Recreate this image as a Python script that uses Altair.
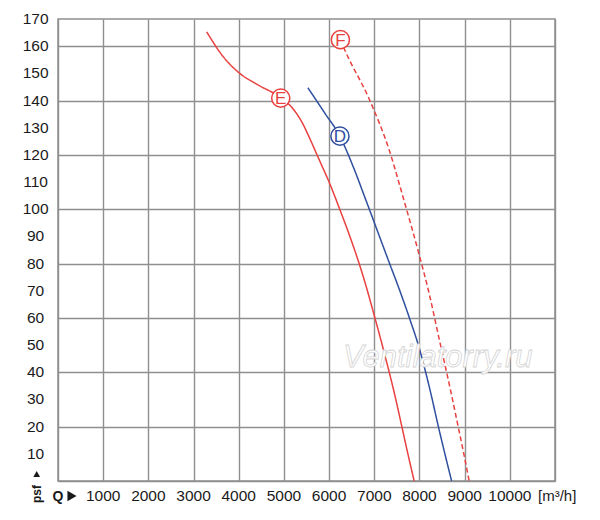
import altair as alt
import pandas as pd

# ---- data ----
E_q = [3290, 3640, 4000, 4400, 4930, 5200, 5400, 5600, 5800, 6000, 6240, 6460, 6760, 6990, 7200, 7456, 7604, 7737, 7883]
E_p = [165.3, 156.5, 150.3, 146.0, 141.0, 137.0, 132.0, 125.0, 117.5, 110.0, 99.8, 90.0, 75.0, 61.5, 48.5, 31.5, 20.5, 10.5, 0.0]

D_q = [5530, 5900, 6240, 6530, 6800, 7070, 7310, 7570, 7790, 7990, 8130, 8265, 8405, 8560, 8712]
D_p = [144.7, 135.5, 126.8, 115.8, 104.0, 92.0, 81.3, 69.8, 59.4, 49.2, 40.5, 31.3, 21.0, 10.2, 0.0]

F_q = [6250, 6350, 6900, 7330, 7660, 7990, 8200, 8440, 8710, 8857, 8982, 9100]
F_p = [162.4, 158.5, 140.1, 121.8, 103.1, 83.5, 70.0, 52.0, 31.7, 20.0, 10.0, 0.0]

LABEL_NAMES = ["E", "D", "F"]
LABEL_Q = [4930, 6240, 6250]
LABEL_P = [140.9, 126.9, 162.4]

X_GRID = [0, 1000, 2000, 3000, 4000, 5000, 6000, 7000, 8000, 9000, 10000, 11000]
X_LABELS = [1000, 2000, 3000, 4000, 5000, 6000, 7000, 8000, 9000, 10000]
Y_GRID = list(range(0, 171, 10))
Y_LABELS = list(range(10, 171, 10))

RED = "#e8413f"
BLUE = "#2f4f9f"
GRID = "#8f8f8f"
TXT = "#1a1a1a"
FONT = "Liberation Sans"

rows = []
for name, qs, ps in [("E", E_q, E_p), ("D", D_q, D_p), ("F", F_q, F_p)]:
    for q, p in zip(qs, ps):
        rows.append({"curve": name, "q": q, "p": p})
curves = pd.DataFrame(rows)
labels = pd.DataFrame({"curve": LABEL_NAMES, "q": LABEL_Q, "p": LABEL_P})
xlab = pd.DataFrame({"v": X_LABELS, "t": [str(v) for v in X_LABELS]})
ylab = pd.DataFrame({"v": Y_LABELS, "t": [str(v) for v in Y_LABELS]})

xs = alt.Scale(domain=[0, 11000], nice=False, zero=False)
ys = alt.Scale(domain=[0, 170], nice=False)
cscale = alt.Scale(domain=["E", "D", "F"], range=[RED, BLUE, RED])
dscale = alt.Scale(domain=["E", "D", "F"], range=[[1, 0], [1, 0], [5, 3]])

xaxis = alt.Axis(values=X_GRID, labels=False, title=None, grid=True,
                 gridColor=GRID, gridWidth=1.4, gridOpacity=1,
                 domain=False, ticks=False, tickSize=0)
yaxis = alt.Axis(values=Y_GRID, labels=False, title=None, grid=True,
                 gridColor=GRID, gridWidth=1.4, gridOpacity=1,
                 domain=False, ticks=False, tickSize=0)

lines = alt.Chart(curves).mark_line(strokeWidth=1.5, interpolate="monotone").encode(
    x=alt.X("q:Q", scale=xs, axis=xaxis),
    y=alt.Y("p:Q", scale=ys, axis=yaxis),
    color=alt.Color("curve:N", scale=cscale, legend=None),
    strokeDash=alt.StrokeDash("curve:N", scale=dscale, legend=None),
    detail="curve:N",
)

circles = alt.Chart(labels).mark_point(shape="circle", filled=False, fill="white",
                                       fillOpacity=1, opacity=1, size=330, strokeWidth=1.5).encode(
    x=alt.X("q:Q", scale=xs),
    y=alt.Y("p:Q", scale=ys),
    stroke=alt.Stroke("curve:N", scale=cscale, legend=None),
)

letters = alt.Chart(labels).mark_text(font=FONT, fontSize=17, align="center",
                                      baseline="middle", dy=1).encode(
    x=alt.X("q:Q", scale=xs),
    y=alt.Y("p:Q", scale=ys),
    text="curve:N",
    color=alt.Color("curve:N", scale=cscale, legend=None),
)

xlabels = alt.Chart(xlab).mark_text(font=FONT, fontSize=15.5, color=TXT, align="center",
                                    baseline="middle").encode(
    x=alt.X("v:Q", scale=xs), y=alt.value(477), text="t:N")
ylabels = alt.Chart(ylab).mark_text(font=FONT, fontSize=15.5, color=TXT, align="center",
                                    baseline="middle").encode(
    x=alt.value(-22.4), y=alt.Y("v:Q", scale=ys), text="t:N")

one = alt.Data(values=[{"a": 1}])

q_text = alt.Chart(one).mark_text(text="Q", font=FONT, fontSize=14, fontWeight="bold",
                                  color=TXT, align="center", baseline="middle").encode(
    x=alt.value(0), y=alt.value(478))
q_arrow = alt.Chart(one).mark_point(shape="triangle-right", filled=True, color=TXT,
                                    size=110, opacity=1).encode(
    x=alt.value(14), y=alt.value(477))
unit_text = alt.Chart(one).mark_text(text="[m³/h]", font=FONT, fontSize=15, color=TXT,
                                     align="left", baseline="middle").encode(
    x=alt.value(480), y=alt.value(477))
psf_text = alt.Chart(one).mark_text(text="psf", font=FONT, fontSize=12, fontWeight="bold",
                                    color=TXT, align="center", baseline="middle",
                                    angle=270).encode(
    x=alt.value(-21.3), y=alt.value(475))
psf_arrow = alt.Chart(one).mark_point(shape="triangle-up", filled=True, color=TXT,
                                      size=45, opacity=1).encode(
    x=alt.value(-21.3), y=alt.value(455))
watermark = alt.Chart(one).mark_text(text="Ventilatorry.ru", font=FONT, fontSize=31,
                                     fontStyle="italic", fill="white", stroke="#d4d4d4",
                                     strokeWidth=0.8, align="left", baseline="middle").encode(
    x=alt.value(285), y=alt.value(339))

chart = alt.layer(
    lines, watermark, circles, letters, xlabels, ylabels,
    q_text, q_arrow, unit_text, psf_text, psf_arrow
).properties(
    width=497, height=462,
    background="white",
    autosize=alt.AutoSizeParams(type="none"),
    padding={"left": 50, "top": 11, "right": 30, "bottom": 40},
).configure_view(
    stroke=GRID, strokeWidth=1.5
)

chart.save("out.html", embed_options={"renderer": "svg", "actions": False})
